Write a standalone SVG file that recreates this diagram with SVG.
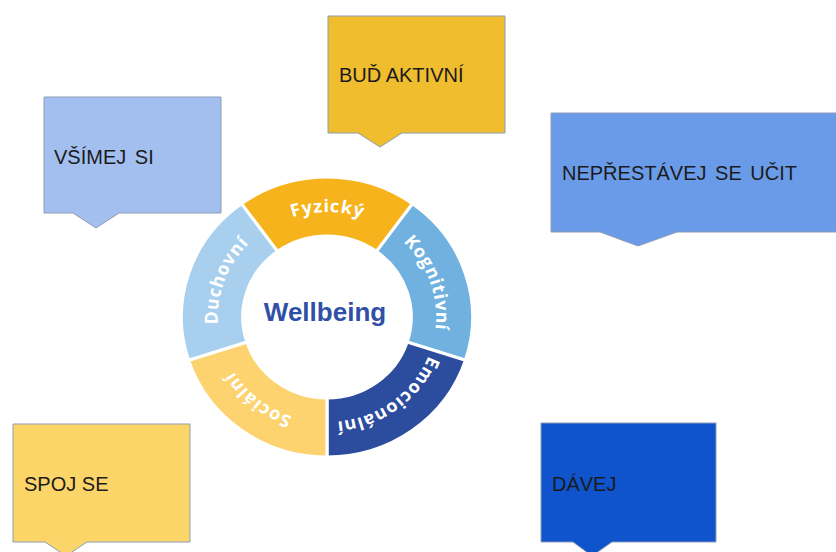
<svg xmlns="http://www.w3.org/2000/svg" width="836" height="552" viewBox="0 0 836 552">
  <defs>
    <style>
      .box { stroke: #8d9db5; stroke-width: 1; }
      .btxt { font-family: "Liberation Sans", Arial, sans-serif; font-size: 20px; fill: #1b1b1b; }
      .wide { word-spacing: 3px; }
      .seg { stroke: #ffffff; stroke-width: 3; stroke-linejoin: round; }
      .rtxt { font-family: "Open Sans", "Liberation Sans", sans-serif; font-weight: 700; font-size: 17.5px; fill: #ffffff; letter-spacing: 0.8px; }
      .center { font-family: "Liberation Sans", Arial, sans-serif; font-weight: 700; font-size: 26px; fill: #2f50a6; }
    </style>
    <path id="ringPath" d="M 0 105 A 105 105 0 1 1 0 -105 A 105 105 0 1 1 0 105"/>
  </defs>
  <rect width="836" height="552" fill="#ffffff"/>

  <g id="callouts">
    <g id="bud-aktivni">
      <path class="box" fill="#f0bd2f" d="M328,16 H505 V133 H402 L380,147 L358,133 H328 Z"/>
      <text class="btxt" x="339" y="82">BUĎ AKTIVNÍ</text>
    </g>
    <g id="vsimej-si">
      <path class="box" fill="#a3bfef" d="M44,97 H221 V213 H119 L96,228 L73,213 H44 Z"/>
      <text class="btxt wide" x="54" y="164">VŠÍMEJ SI</text>
    </g>
    <g id="neprestavej">
      <path class="box" fill="#6a9be9" d="M551,113 H845 V232 H677 L638,246 L600,232 H551 Z"/>
      <text class="btxt wide" x="562" y="180">NEPŘESTÁVEJ SE UČIT</text>
    </g>
    <g id="spoj-se">
      <path class="box" fill="#fcd568" d="M13,424 H190 V542 H87 L66,556 L45,542 H13 Z"/>
      <text class="btxt" x="24" y="491">SPOJ SE</text>
    </g>
    <g id="davej">
      <path class="box" fill="#0f53cd" d="M541,423 H716 V542 H612 L592,556 L573,542 H541 Z"/>
      <text class="btxt" x="552" y="491">DÁVEJ</text>
    </g>
  </g>

  <g id="wheel" transform="translate(327,317) scale(1.04,1)">
    <g id="fyzicky">
      <path class="seg" fill="#f6b31b" d="M -82.29 -113.26 A 140 140 0 0 1 82.29 -113.26 L 47.61 -65.53 A 81 81 0 0 0 -47.61 -65.53 Z"/>
      <text class="rtxt" text-anchor="middle"><textPath href="#ringPath" startOffset="330">Fyzický</textPath></text>
    </g>
    <g id="kognitivni">
      <path class="seg" fill="#70b1e0" d="M 82.29 -113.26 A 140 140 0 0 1 133.15 43.26 L 77.04 25.03 A 81 81 0 0 0 47.61 -65.53 Z"/>
      <text class="rtxt" text-anchor="middle"><textPath href="#ringPath" startOffset="459">Kognitivní</textPath></text>
    </g>
    <g id="emocionalni">
      <path class="seg" fill="#2c4c9e" d="M 133.15 43.26 A 140 140 0 0 1 0 140 L 0 81 A 81 81 0 0 0 77.04 25.03 Z"/>
      <text class="rtxt" text-anchor="middle"><textPath href="#ringPath" startOffset="592">Emocionální</textPath></text>
    </g>
    <g id="socialni">
      <path class="seg" fill="#fcd36f" d="M 0 140 A 140 140 0 0 1 -133.15 43.26 L -77.04 25.03 A 81 81 0 0 0 0 81 Z"/>
      <text class="rtxt" text-anchor="middle"><textPath href="#ringPath" startOffset="71">Sociální</textPath></text>
    </g>
    <g id="duchovni">
      <path class="seg" fill="#a8d0ee" d="M -133.15 43.26 A 140 140 0 0 1 -82.29 -113.26 L -47.61 -65.53 A 81 81 0 0 0 -77.04 25.03 Z"/>
      <text class="rtxt" text-anchor="middle"><textPath href="#ringPath" startOffset="202">Duchovní</textPath></text>
    </g>
  </g>

  <g id="wellbeing">
    <text class="center" x="325" y="321" text-anchor="middle">Wellbeing</text>
  </g>
</svg>
